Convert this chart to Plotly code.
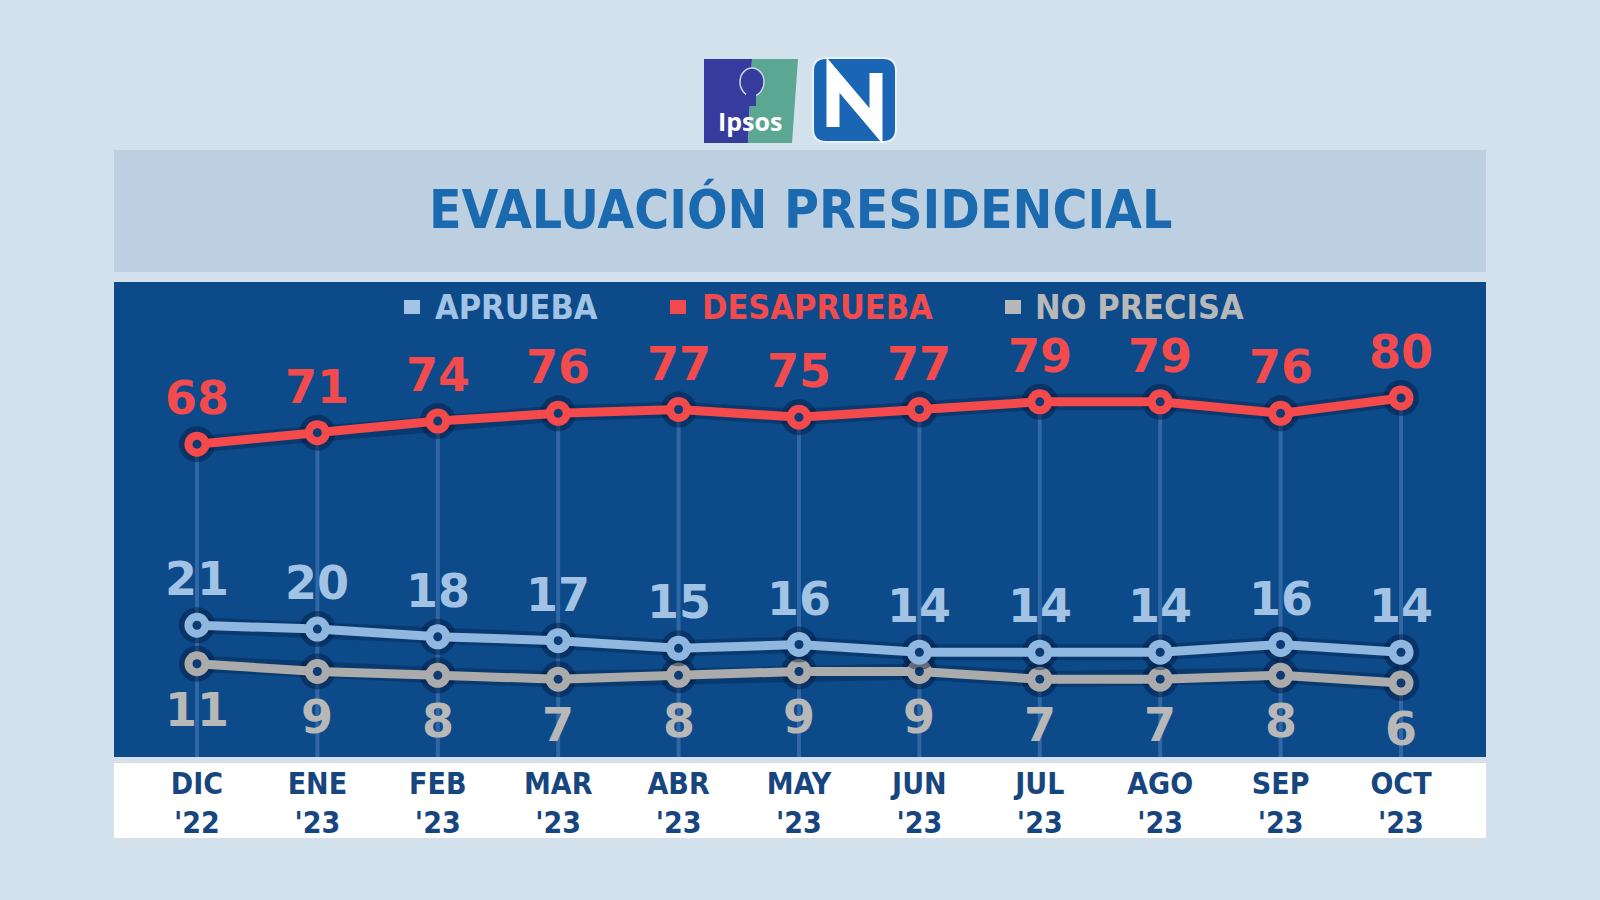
import plotly.graph_objects as go

W, H = 1600, 900

months = ["DIC", "ENE", "FEB", "MAR", "ABR", "MAY", "JUN", "JUL", "AGO", "SEP", "OCT"]
years = ["'22", "'23", "'23", "'23", "'23", "'23", "'23", "'23", "'23", "'23", "'23"]
aprueba = [21, 20, 18, 17, 15, 16, 14, 14, 14, 16, 14]
desaprueba = [68, 71, 74, 76, 77, 75, 77, 79, 79, 76, 80]
no_precisa = [11, 9, 8, 7, 8, 9, 9, 7, 7, 8, 6]

series_names = ["APRUEBA", "DESAPRUEBA", "NO PRECISA"]

C_BG = "#d2e1eb"
C_BAND = "#bdd0e1"
C_PANEL = "#0c4a8a"
C_TITLE = "#1b69ae"
C_AXIS_TXT = "#17467f"
C_RED = "#f44a4c"
C_BLUE = "#8fb7df"
C_GRAY = "#ababab"
L_RED = "#f34b4d"
L_BLUE = "#a3c3e4"
L_GRAY = "#b8b8b8"
DOT = "#0d3b73"

Y_MIN, Y_MAX = -13.2, 110.1
X_MIN, X_MAX = -0.689, 10.706


def px(x):
    return x / W


def py(y):
    return 1 - y / H


x = list(range(len(months)))
tick_text = [f"{m}<br>{y}" for m, y in zip(months, years)]
fig = go.Figure()

# vertical guide lines from the DESAPRUEBA point down to the panel bottom
vx, vy = [], []
for i, v in zip(x, desaprueba):
    vx += [i, i, None]
    vy += [v, Y_MIN, None]
fig.add_trace(go.Scatter(x=vx, y=vy, mode="lines", hoverinfo="skip", showlegend=False,
                         line=dict(color="rgba(125,165,220,0.33)", width=4)))


def add_series(vals, color, name):
    fig.add_trace(go.Scatter(x=x, y=vals, mode="lines", hoverinfo="skip", showlegend=False,
                             line=dict(color="rgba(3,25,60,0.35)", width=16)))
    fig.add_trace(go.Scatter(x=x, y=vals, mode="markers", hoverinfo="skip", showlegend=False,
                             marker=dict(size=36, color="rgba(3,25,60,0.45)")))
    fig.add_trace(go.Scatter(x=x, y=vals, mode="lines+markers", name=name, showlegend=False,
                             line=dict(color=color, width=9),
                             marker=dict(size=25, color=color)))
    fig.add_trace(go.Scatter(x=x, y=vals, mode="markers", hoverinfo="skip", showlegend=False,
                             marker=dict(size=9, color=DOT)))


add_series(no_precisa, C_GRAY, series_names[2])
add_series(aprueba, C_BLUE, series_names[0])
add_series(desaprueba, C_RED, series_names[1])

annotations = []
num_font = "DejaVu Sans"
for i in x:
    annotations.append(dict(x=i, y=desaprueba[i], xref="x", yref="y", text=str(desaprueba[i]),
                            showarrow=False, yshift=46,
                            font=dict(family=num_font, size=46, color=L_RED, weight="bold")))
    annotations.append(dict(x=i, y=aprueba[i], xref="x", yref="y", text=str(aprueba[i]),
                            showarrow=False, yshift=46,
                            font=dict(family=num_font, size=46, color=L_BLUE, weight="bold")))
    annotations.append(dict(x=i, y=no_precisa[i], xref="x", yref="y", text=str(no_precisa[i]),
                            showarrow=False, yshift=-46,
                            font=dict(family=num_font, size=46, color=L_GRAY, weight="bold")))

# title
annotations.append(dict(x=0.5, y=py(209), xref="paper", yref="paper", text="EVALUACIÓN PRESIDENCIAL",
                        showarrow=False, yanchor="middle",
                        font=dict(family="DejaVu Sans Condensed", size=53, color=C_TITLE, weight="bold")))

# legend
leg = [(433, series_names[0], L_BLUE, 412), (700, series_names[1], L_RED, 678),
       (1033, series_names[2], L_GRAY, 1013)]
shapes = []
for tx, name, col, sx in leg:
    annotations.append(dict(x=px(tx), y=py(307), xref="paper", yref="paper", text=name,
                            showarrow=False, xanchor="left", yanchor="middle",
                            font=dict(family="DejaVu Sans Condensed", size=34, color=col, weight="bold")))
    shapes.append(dict(type="rect", xref="paper", yref="paper", x0=px(sx - 8), x1=px(sx + 8),
                       y0=py(300), y1=py(314), fillcolor=col, line=dict(width=0), layer="above"))

# bands
shapes.append(dict(type="rect", xref="paper", yref="paper", x0=px(114), x1=px(1486),
                   y0=py(272), y1=py(150), fillcolor=C_BAND, line=dict(width=0), layer="below"))
shapes.append(dict(type="rect", xref="paper", yref="paper", x0=px(114), x1=px(1486),
                   y0=py(838), y1=py(763), fillcolor="#ffffff", line=dict(width=0), layer="below"))

# Ipsos logo
shapes.append(dict(type="path", xref="paper", yref="paper",
                   path=f"M {px(704)},{py(59)} L {px(752)},{py(59)} L {px(748)},{py(143)} L {px(704)},{py(143)} Z",
                   fillcolor="#363c9d", line=dict(width=0)))
shapes.append(dict(type="path", xref="paper", yref="paper",
                   path=f"M {px(752)},{py(59)} L {px(798)},{py(59)} L {px(792)},{py(143)} L {px(748)},{py(143)} Z",
                   fillcolor="#5ca793", line=dict(width=0)))
shapes.append(dict(type="circle", xref="paper", yref="paper", x0=px(740), x1=px(764),
                   y0=py(96), y1=py(68), fillcolor="#363c9d", line=dict(color="#c9d6ea", width=1.5)))
shapes.append(dict(type="rect", xref="paper", yref="paper", x0=px(746), x1=px(756),
                   y0=py(106), y1=py(94), fillcolor="#363c9d", line=dict(width=0)))
annotations.append(dict(x=px(750), y=py(121), xref="paper", yref="paper", text="Ipsos",
                        showarrow=False, yanchor="middle",
                        font=dict(family="Open Sans", size=25, color="white", weight="bold")))

# N logo
r = 13
x0n, x1n, y0n, y1n = 813, 896, 58, 142
shapes.append(dict(type="path", xref="paper", yref="paper",
                   path=(f"M {px(x0n + r)},{py(y0n)} L {px(x1n - r)},{py(y0n)} "
                         f"Q {px(x1n)},{py(y0n)} {px(x1n)},{py(y0n + r)} L {px(x1n)},{py(y1n - r)} "
                         f"Q {px(x1n)},{py(y1n)} {px(x1n - r)},{py(y1n)} L {px(x0n + r)},{py(y1n)} "
                         f"Q {px(x0n)},{py(y1n)} {px(x0n)},{py(y1n - r)} L {px(x0n)},{py(y0n + r)} "
                         f"Q {px(x0n)},{py(y0n)} {px(x0n + r)},{py(y0n)} Z"),
                   fillcolor="#1a66b5", line=dict(color="#e8f0f8", width=2)))
shapes.append(dict(type="path", xref="paper", yref="paper",
                   path=(f"M {px(833)},{py(127)} L {px(833)},{py(75)} "
                         f"L {px(876)},{py(126)} L {px(876)},{py(73)}"),
                   line=dict(color="white", width=13)))

fig.update_layout(
    width=W, height=H,
    margin=dict(l=0, r=0, t=0, b=0),
    paper_bgcolor=C_BG,
    plot_bgcolor=C_PANEL,
    showlegend=False,
    xaxis=dict(range=[X_MIN, X_MAX], domain=[px(114), px(1486)], showgrid=False, zeroline=False,
               showline=False, tickmode="array", tickvals=x, ticktext=tick_text, ticks="",
               ticklabelstandoff=6,
               tickfont=dict(family="DejaVu Sans Condensed", size=30, color=C_AXIS_TXT, weight="bold"),
               fixedrange=True),
    yaxis=dict(range=[Y_MIN, Y_MAX], domain=[py(757), py(282)], showgrid=False, zeroline=False,
               showline=False, showticklabels=False, fixedrange=True),
    annotations=annotations,
    shapes=shapes,
)

fig.write_html("out.html")
